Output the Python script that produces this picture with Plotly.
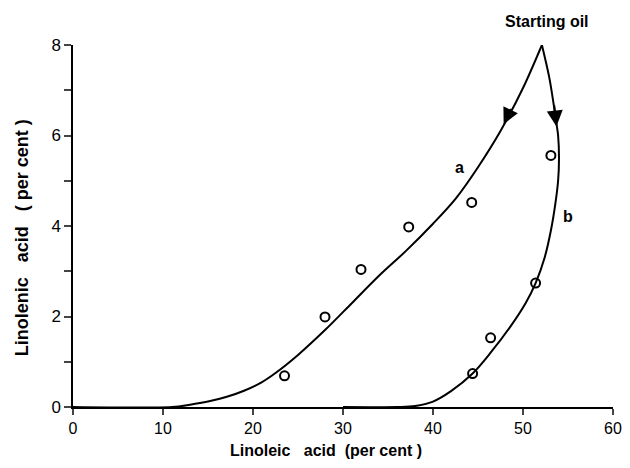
import plotly.graph_objects as go

# Observed data points (linoleic %, linolenic %)
pts_x = [23.5, 28.0, 32.0, 37.3, 44.3, 53.1, 51.4, 46.4, 44.4]
pts_y = [0.69, 1.99, 3.04, 3.98, 4.52, 5.56, 2.74, 1.53, 0.74]

# Curve a
a_x = [0, 11, 13, 15, 17, 19, 21, 22.5, 25, 28, 31, 34, 37, 40, 42.5, 45, 47.5, 50, 52.1]
a_y = [0, 0, 0.05, 0.12, 0.22, 0.36, 0.55, 0.75, 1.15, 1.7, 2.3, 2.9, 3.45, 4.05, 4.6, 5.3, 6.1, 7.05, 8.0]

# Curve b
b_x = [30, 36, 38, 40, 42, 44.4, 46.4, 48.5, 50.3, 51.4, 52.4, 53.1, 53.6, 53.9, 54.0, 53.9, 53.65, 53.4, 52.9, 52.1]
b_y = [0, 0, 0.02, 0.12, 0.35, 0.74, 1.2, 1.75, 2.3, 2.74, 3.3, 3.9, 4.5, 5.0, 5.5, 6.0, 6.35, 6.7, 7.3, 8.0]

x_ticks = [0, 10, 20, 30, 40, 50, 60]
y_ticks = [0, 1, 2, 3, 4, 5, 6, 7, 8]
y_ticklabels = ["0", "", "2", "", "4", "", "6", "", "8"]

FONT = "Liberation Sans"
NB = "\u00a0"

fig = go.Figure()
fig.add_trace(go.Scatter(x=a_x, y=a_y, mode="lines", line=dict(color="black", width=2, shape="spline", smoothing=0.9),
                         cliponaxis=False, showlegend=False))
fig.add_trace(go.Scatter(x=b_x, y=b_y, mode="lines", line=dict(color="black", width=2, shape="spline", smoothing=0.9),
                         cliponaxis=False, showlegend=False))
fig.add_trace(go.Scatter(x=pts_x, y=pts_y, mode="markers",
                         marker=dict(symbol="circle-open", size=9, color="black", line=dict(width=2)),
                         cliponaxis=False, showlegend=False))

# arrows along curves
fig.add_annotation(x=47.85, y=6.25, ax=48.75, ay=6.62, xref="x", yref="y", axref="x", ayref="y",
                   showarrow=True, arrowhead=2, arrowsize=1.6, arrowwidth=2, arrowcolor="black", text="")
fig.add_annotation(x=53.72, y=6.2, ax=53.45, ay=6.7, xref="x", yref="y", axref="x", ayref="y",
                   showarrow=True, arrowhead=2, arrowsize=1.6, arrowwidth=2, arrowcolor="black", text="")

fig.add_annotation(x=42.9, y=5.3, text="<b>a</b>", showarrow=False, xanchor="center", yanchor="middle",
                   font=dict(family=FONT, size=16, color="black"))
fig.add_annotation(x=55.0, y=4.2, text="<b>b</b>", showarrow=False, xanchor="center", yanchor="middle",
                   font=dict(family=FONT, size=16, color="black"))
fig.add_annotation(x=0.878, y=1.064, xref="paper", yref="paper", text="<b>Starting oil</b>", showarrow=False,
                   xanchor="center", yanchor="middle", font=dict(family=FONT, size=16, color="black"))

# axis titles
fig.add_annotation(x=0.469, y=-0.119, xref="paper", yref="paper", xanchor="center", yanchor="middle",
                   text="<b>Linoleic" + NB * 3 + "acid" + NB * 2 + "(per cent" + NB + ")</b>",
                   showarrow=False, font=dict(family=FONT, size=16, color="black"))
fig.add_annotation(x=-0.094, y=0.467, xref="paper", yref="paper", textangle=-90, xanchor="center", yanchor="middle",
                   text="<b>Linolenic" + NB * 3 + "acid" + NB * 3 + "(" + NB + "per" + NB + "cent" + NB + ")</b>",
                   showarrow=False, font=dict(family=FONT, size=18, color="black"))

# the page body has an 8px default margin: keep figure + margin within the window (no scrollbars)
fig.update_layout(
    width=614, height=452,
    margin=dict(l=65, r=9, t=37, b=53),
    plot_bgcolor="white", paper_bgcolor="white",
    font=dict(family=FONT, size=17, color="black"),
)
fig.update_xaxes(range=[0, 60], tickvals=x_ticks, ticks="outside", ticklen=6, tickwidth=1.5,
                 showline=True, linecolor="black", linewidth=1.5, showgrid=False, zeroline=False,
                 tickfont=dict(size=16), automargin=False, ticklabeloverflow="allow")
fig.update_yaxes(range=[0, 8], tickvals=y_ticks, ticktext=y_ticklabels,
                 ticks="outside", ticklen=7, tickwidth=1.5,
                 showline=True, linecolor="black", linewidth=1.5, showgrid=False, zeroline=False,
                 tickfont=dict(size=17), automargin=False)

fig.write_html("out.html")
